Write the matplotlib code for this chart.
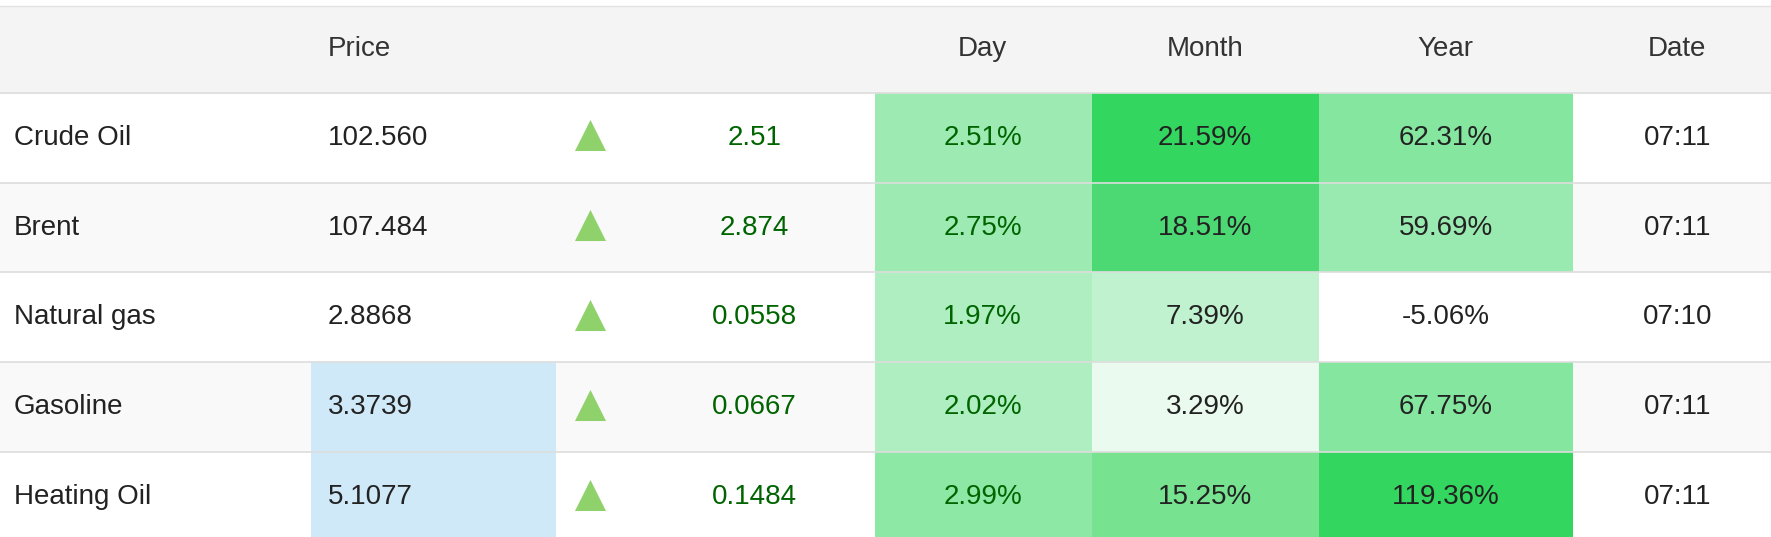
import matplotlib
matplotlib.use("Agg")
import matplotlib.pyplot as plt
from matplotlib.patches import Rectangle

names = ["Crude Oil", "Brent", "Natural gas", "Gasoline", "Heating Oil"]
prices = ["102.560", "107.484", "2.8868", "3.3739", "5.1077"]
changes = ["2.51", "2.874", "0.0558", "0.0667", "0.1484"]
day = ["2.51%", "2.75%", "1.97%", "2.02%", "2.99%"]
month = ["21.59%", "18.51%", "7.39%", "3.29%", "15.25%"]
year = ["62.31%", "59.69%", "-5.06%", "67.75%", "119.36%"]
dates = ["07:11", "07:11", "07:10", "07:11", "07:11"]
day_c = ["#9debb3", "#9debb3", "#aeeec0", "#aeeec0", "#8ce8a4"]
month_c = ["#33d65e", "#4cd974", "#c1f2cf", "#eafaee", "#77e391"]
year_c = ["#85e69f", "#99eab0", None, "#85e69f", "#33d65e"]
price_c = [None, None, None, "#d0e9f9", "#d0e9f9"]

plt.rcParams['font.family'] = ['Liberation Sans', 'DejaVu Sans']
W, H = 1568, 475
fig = plt.figure(figsize=(17.71, 5.37), dpi=100)
ax = fig.add_axes([0, 0, 1, 1])
ax.set_xlim(0, W); ax.set_ylim(H, 0); ax.axis("off")
fs = 20
cols = [0, 275, 492, 560, 775, 967, 1168, 1393, W]
hy0, hy1 = 5, 82
rh = 79.5
ax.add_patch(Rectangle((0, hy0), W, hy1 - hy0, color="#f4f4f4", lw=0))
ax.plot([0, W], [hy0, hy0], color="#e2e2e2", lw=1)
for i in range(5):
    y0 = hy1 + i * rh
    ax.add_patch(Rectangle((0, y0), W, rh, color="#f9f9f9" if i % 2 else "white", lw=0))
    for c, (a, b) in [(price_c[i], (cols[1], cols[2])), (day_c[i], (cols[4], cols[5])),
                      (month_c[i], (cols[5], cols[6])), (year_c[i], (cols[6], cols[7]))]:
        if c:
            ax.add_patch(Rectangle((a, y0), b - a, rh, color=c, lw=0))
    ax.plot([0, W], [y0, y0], color="#dddddd", lw=1.2)
    yc = y0 + rh / 2
    ax.text(12, yc, names[i], fontsize=fs, va="center", color="#222")
    ax.text(290, yc, prices[i], fontsize=fs, va="center", color="#222")
    ax.scatter([522], [yc - 2], marker="^", s=500, color="#8fd16a", lw=0)
    ax.text(668, yc, changes[i], fontsize=fs, va="center", ha="center", color="#006400")
    ax.text(870, yc, day[i], fontsize=fs, va="center", ha="center", color="#006400")
    ax.text(1067, yc, month[i], fontsize=fs, va="center", ha="center", color="#222")
    ax.text(1280, yc, year[i], fontsize=fs, va="center", ha="center", color="#222")
    ax.text(1485, yc, dates[i], fontsize=fs, va="center", ha="center", color="#222")
hc = (hy0 + hy1) / 2
ax.text(290, hc, "Price", fontsize=fs, va="center", color="#333")
for x, t in [(870, "Day"), (1067, "Month"), (1280, "Year"), (1485, "Date")]:
    ax.text(x, hc, t, fontsize=fs, va="center", ha="center", color="#333")
fig.savefig("out.png", dpi=100)
